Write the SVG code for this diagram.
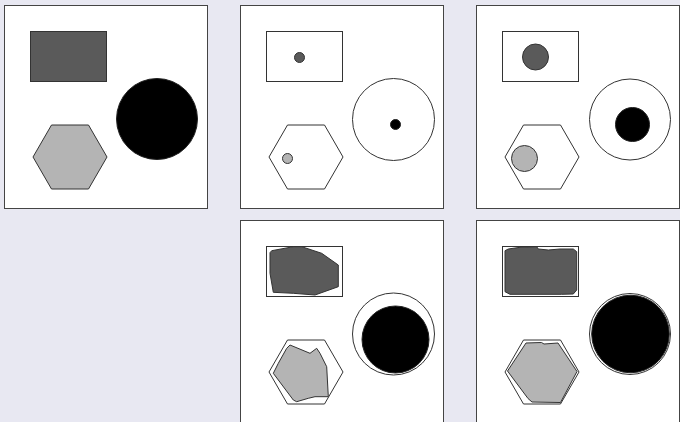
<svg xmlns="http://www.w3.org/2000/svg" width="680" height="422" viewBox="0 0 680 422">
<style>
.panel{fill:#ffffff;stroke:#444444;stroke-width:1}
.ol{fill:none;stroke:#333333;stroke-width:1}
.dk{fill:#5a5a5a;stroke:#333333;stroke-width:1}
.lt{fill:#b4b4b4;stroke:#333333;stroke-width:1}
.bk{fill:#000000;stroke:#222222;stroke-width:1}
</style>
<defs>
<polygon id="hex" points="-37,0 -18.5,-32 18.5,-32 37,0 18.5,32 -18.5,32"/>
</defs>
<rect x="0" y="0" width="680" height="422" fill="#e8e8f2"/>

<g id="panel1">
<rect class="panel" x="4.5" y="5.5" width="203" height="203"/>
<rect class="dk" x="30.5" y="31.5" width="76" height="50"/>
<circle class="bk" cx="157" cy="119" r="40.5"/>
<use href="#hex" class="lt" x="70" y="157"/>
</g>

<g id="panel2">
<rect class="panel" x="240.5" y="5.5" width="203" height="203"/>
<rect class="ol" x="266.5" y="31.5" width="76" height="50"/>
<circle class="dk" cx="299.5" cy="57.5" r="5"/>
<circle class="ol" cx="393.5" cy="119.5" r="41"/>
<circle class="bk" cx="395.5" cy="124.5" r="5"/>
<use href="#hex" class="ol" x="306" y="157"/>
<circle class="lt" cx="287.5" cy="158.5" r="5"/>
</g>

<g id="panel3">
<rect class="panel" x="476.5" y="5.5" width="203" height="203"/>
<rect class="ol" x="502.5" y="31.5" width="76" height="50"/>
<circle class="dk" cx="535.5" cy="57" r="13"/>
<circle class="ol" cx="630" cy="119.5" r="40.5"/>
<circle class="bk" cx="632.5" cy="124.5" r="17"/>
<use href="#hex" class="ol" x="542" y="157"/>
<circle class="lt" cx="524.5" cy="158.5" r="13"/>
</g>

<g id="panel4">
<rect class="panel" x="240.5" y="220.5" width="203" height="203"/>
<rect class="ol" x="266.5" y="246.5" width="76" height="50"/>
<polygon class="dk" points="270,252.7 271.7,250.7 293.3,246.7 301.7,246.7 321.7,253.3 338.3,265 338.3,286.7 315,295 293.3,293.3 273.3,292.3 270,273.3"/>
<circle class="ol" cx="393.5" cy="334" r="41"/>
<circle class="bk" cx="395.5" cy="339.5" r="33.5"/>
<use href="#hex" class="ol" x="306" y="372"/>
<polygon class="lt" points="290,345 310,353.3 316.7,348.3 320,353.3 326.7,366.7 328.3,396.7 315,396.7 308.3,398.3 296.7,401.7 293.3,400 273.3,373.3 278.3,363.3 286.7,348.3"/>
</g>

<g id="panel5">
<rect class="panel" x="476.5" y="220.5" width="203" height="203"/>
<rect class="ol" x="502.5" y="246.5" width="76" height="50"/>
<polygon class="dk" points="505,250.7 508.3,249 520,247.3 536.7,246.7 538.3,249 548.3,250 560,249 573.3,249 576.7,251.7 576.7,290 573.3,294 561.7,294.3 510,294.3 505,291.7"/>
<circle class="ol" cx="630" cy="334" r="40.5"/>
<circle class="bk" cx="630.5" cy="334" r="38.8"/>
<use href="#hex" class="ol" x="542" y="372"/>
<polygon class="lt" points="507.5,371 526,343 541.5,342.5 544,344 558,343 577,371.5 560.5,402.5 532,402 528,398.5"/>
</g>
</svg>
